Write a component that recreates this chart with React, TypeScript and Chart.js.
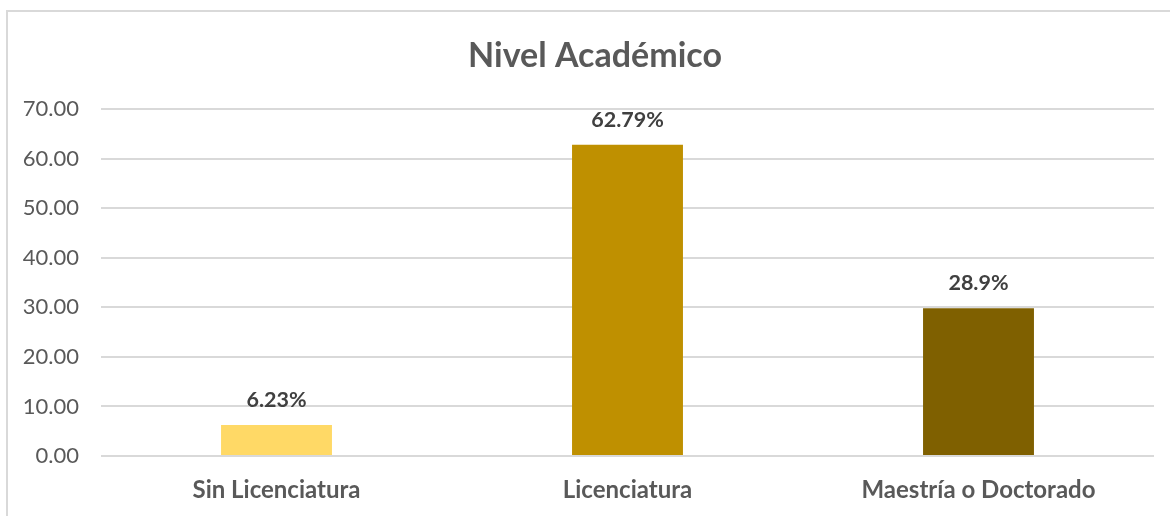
import React, { useEffect, useRef } from "react";
import { Chart, registerables } from "chart.js";

Chart.register(...registerables);

const chartTitle = "Nivel Académico";
const categories = ["Sin Licenciatura", "Licenciatura", "Maestría o Doctorado"];
const values = [6.23, 62.79, 29.8];
const valueLabels = ["6.23%", "62.79%", "28.9%"];
const barColors = ["#FFD966", "#BF9000", "#7F6000"];
const yMin = 0;
const yMax = 70;
const yStep = 10;

const FONT = "Lato, 'Open Sans', sans-serif";

const framePlugin = {
  id: "frame",
  beforeDraw(chart: any) {
    const { ctx } = chart;
    ctx.save();
    ctx.strokeStyle = "#D9D9D9";
    ctx.lineWidth = 2;
    ctx.strokeRect(7, 11, 1200, 600);
    ctx.restore();
  },
};

const labelPlugin = {
  id: "valueLabels",
  afterDatasetsDraw(chart: any) {
    const { ctx } = chart;
    const meta = chart.getDatasetMeta(0);
    ctx.save();
    ctx.fillStyle = "#404040";
    ctx.font = `bold 21.5px ${FONT}`;
    ctx.textAlign = "center";
    ctx.textBaseline = "alphabetic";
    meta.data.forEach((bar: any, i: number) => {
      ctx.fillText(valueLabels[i], bar.x, bar.y - 18);
    });
    ctx.restore();
  },
};

const titlePlugin = {
  id: "customTitle",
  afterDraw(chart: any) {
    const { ctx } = chart;
    ctx.save();
    ctx.fillStyle = "#595959";
    ctx.font = `bold 34px ${FONT}`;
    ctx.textAlign = "center";
    ctx.textBaseline = "alphabetic";
    ctx.fillText(chartTitle, 595, 67);
    ctx.restore();
  },
};

export default function App() {
  const ref = useRef<HTMLCanvasElement>(null);
  useEffect(() => {
    document.body.style.margin = "0";
    const chart = new Chart(ref.current!, {
      type: "bar",
      data: {
        labels: categories,
        datasets: [
          {
            data: values,
            backgroundColor: barColors,
            categoryPercentage: 1,
            barPercentage: 0.316,
          },
        ],
      },
      options: {
        animation: false,
        responsive: false,
        maintainAspectRatio: false,
        layout: { padding: { top: 109, right: 16, bottom: 0, left: 0 } },
        plugins: {
          legend: { display: false },
          title: { display: false },
          tooltip: { enabled: false },
        },
        scales: {
          x: {
            grid: { display: false, drawTicks: false },
            border: { display: false },
            ticks: {
              color: "#595959",
              font: { family: FONT, size: 24, weight: "bold" },
              padding: 20,
              maxRotation: 0,
            },
            afterFit(scale: any) {
              scale.height = 60;
            },
          },
          y: {
            min: yMin,
            max: yMax,
            grid: { color: "#D9D9D9", lineWidth: 2, drawTicks: false },
            border: { display: false },
            ticks: {
              stepSize: yStep,
              color: "#595959",
              font: { family: FONT, size: 22 },
              padding: 22,
              callback: (v: any) => Number(v).toFixed(2),
            },
            afterFit(scale: any) {
              scale.width = 101;
            },
          },
        },
      },
      plugins: [framePlugin, labelPlugin, titlePlugin],
    });
    return () => chart.destroy();
  }, []);
  return <canvas ref={ref} width={1170} height={516} style={{ display: "block" }} />;
}
